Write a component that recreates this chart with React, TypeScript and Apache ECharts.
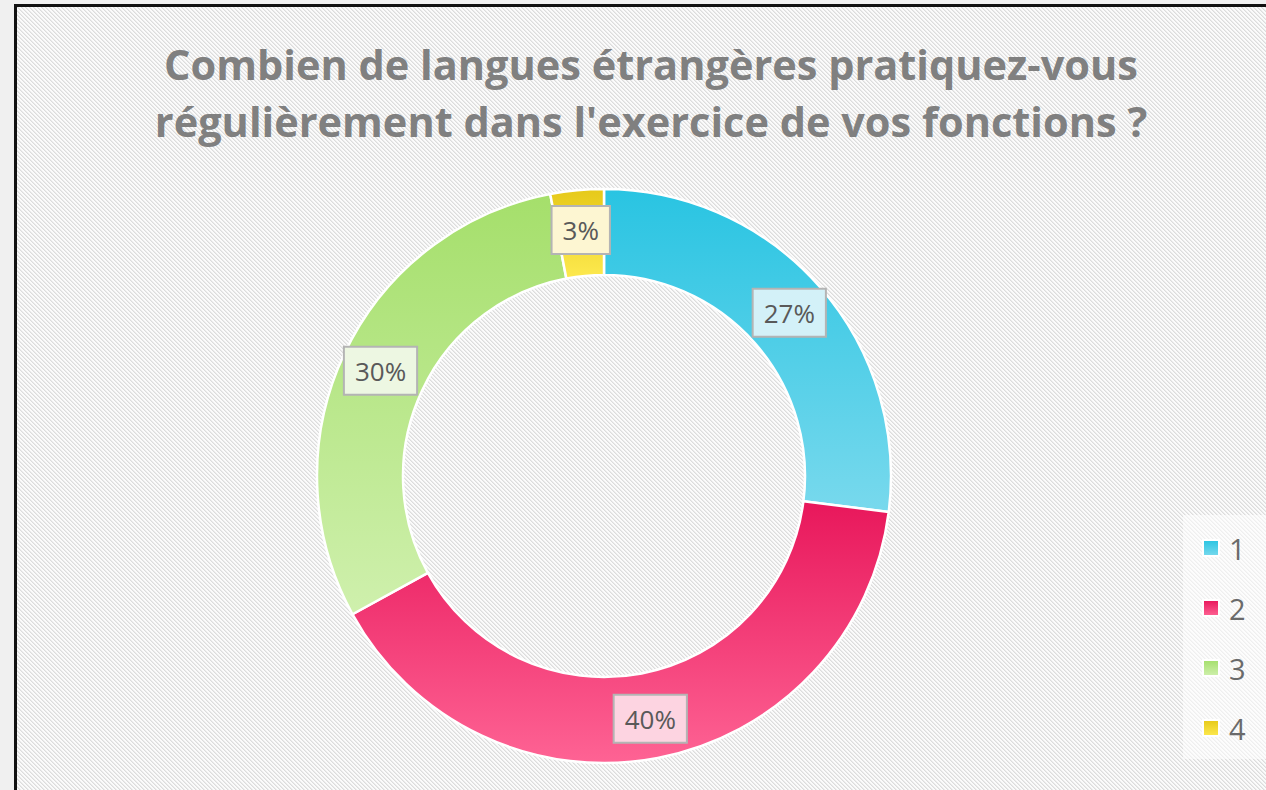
import React, { useEffect, useMemo, useRef } from "react";
import * as echarts from "echarts";

const titleLines = [
  "Combien de langues étrangères pratiquez-vous",
  "régulièrement dans l'exercice de vos fonctions ?",
];
const categories = ["1", "2", "3", "4"];
const values = [27, 40, 30, 3];
const gradientTop = ["#29c4e2", "#e8175b", "#a5df6b", "#e6c919"];
const gradientBottom = ["#78d9ed", "#fe6394", "#cff0ad", "#fde94f"];
const labelFills = ["#d3f1f8", "#fdd4e1", "#edf7e2", "#fdf6d2"];

function makeHatch(): string {
  const c = document.createElement("canvas");
  c.width = 4;
  c.height = 4;
  const ctx = c.getContext("2d");
  if (!ctx) return "";
  for (let y = 0; y < 4; y++) {
    for (let x = 0; x < 4; x++) {
      const d = (x - y + 8) % 4;
      ctx.fillStyle = d === 0 ? "#dcdcdc" : d === 1 ? "#ebebeb" : "#fbfbfb";
      ctx.fillRect(x, y, 1, 1);
    }
  }
  return c.toDataURL();
}

export default function App() {
  const ref = useRef<HTMLDivElement>(null);
  const hatch = useMemo(() => makeHatch(), []);
  useEffect(() => {
    if (!ref.current) return;
    const chart = echarts.init(ref.current, undefined, { renderer: "svg" });
    const data = categories.map((name, i) => ({
      name,
      value: values[i],
      itemStyle: {
        color: new echarts.graphic.LinearGradient(0, 0, 0, 1, [
          { offset: 0, color: gradientTop[i] },
          { offset: 1, color: gradientBottom[i] },
        ]),
      },
      label: { backgroundColor: labelFills[i] },
    }));
    chart.setOption({
      animation: false,
      backgroundColor: "transparent",
      title: {
        text: titleLines.join("\n"),
        left: 646,
        textAlign: "center",
        top: 30,
        textStyle: {
          fontFamily: "Open Sans",
          fontWeight: "bold",
          fontSize: 41.5,
          lineHeight: 57,
          color: "#808080",
        },
      },
      legend: {
        orient: "vertical",
        left: 1183,
        top: 515,
        padding: [18, 40, 16, 19],
        backgroundColor: "rgba(255,255,255,0.55)",
        itemWidth: 16,
        itemHeight: 16,
        itemGap: 30,
        icon: "rect",
        textStyle: {
          fontFamily: "Open Sans",
          fontSize: 29,
          lineHeight: 30,
          color: "#6a6a6a",
          padding: [0, 0, 0, 5],
        },
        data: categories,
      },
      series: [
        {
          type: "pie",
          center: [604, 476],
          radius: [201, 287],
          startAngle: 90,
          clockwise: true,
          avoidLabelOverlap: false,
          itemStyle: { borderColor: "#ffffff", borderWidth: 2.5 },
          label: {
            show: true,
            position: "inside",
            formatter: "{d}%",
            fontFamily: "Open Sans",
            fontSize: 26,
            lineHeight: 30,
            color: "#595959",
            borderColor: "#b4b4b4",
            borderWidth: 2,
            padding: [9, 10, 7, 10],
          },
          labelLine: { show: false },
          emphasis: { disabled: true },
          data,
        },
      ],
    });
    return () => chart.dispose();
  }, []);
  return (
    <div
      style={{
        position: "fixed",
        left: 0,
        top: 0,
        width: 1266,
        height: 790,
        background: "#f0f0f0",
        overflow: "hidden",
      }}
    >
      <div
        style={{
          position: "absolute",
          left: 14,
          top: 4,
          width: 1270,
          height: 800,
          borderTop: "3px solid #111",
          borderLeft: "3px solid #111",
          backgroundColor: "#f4f4f4",
          backgroundImage: hatch ? `url(${hatch})` : undefined,
          backgroundRepeat: "repeat",
        }}
      />
      <div
        ref={ref}
        style={{ position: "absolute", left: 0, top: 0, width: 1266, height: 790 }}
      />
    </div>
  );
}
